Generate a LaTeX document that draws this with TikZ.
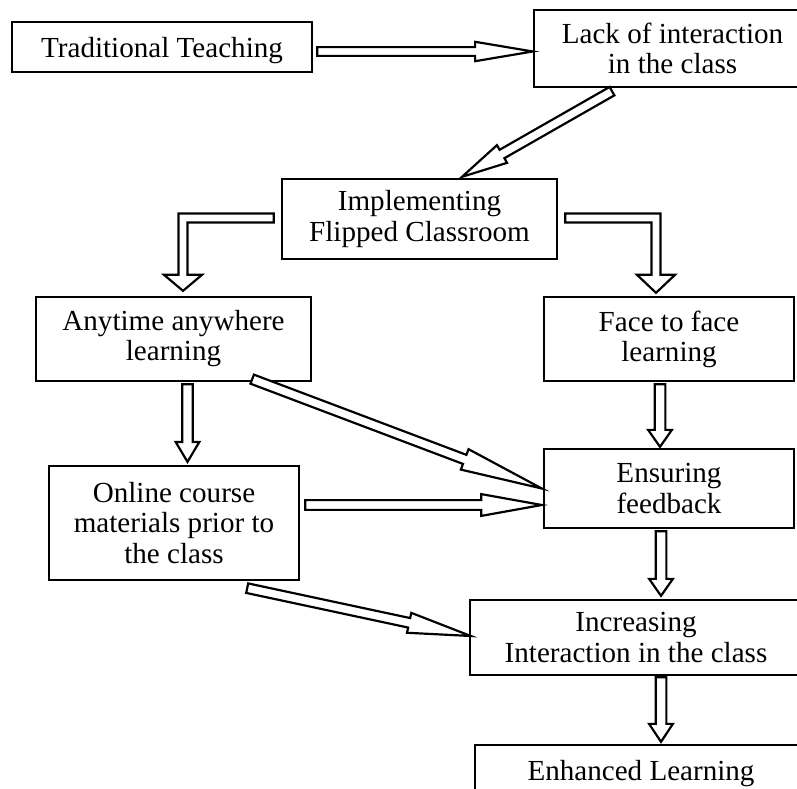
\documentclass[tikz,border=0pt]{standalone}
\usepackage{fontspec}
\setmainfont{Liberation Serif}
\usepackage{tikz}
\usetikzlibrary{calc}

\newcommand{\blockarrow}[5]{%
	\path (#1) coordinate (ba-s) (#2) coordinate (ba-t);
	\path ($(ba-t)!#5!(ba-s)$) coordinate (ba-h);
	\draw[arrowline] ($(ba-s)!#3!90:(ba-t)$) -- ($(ba-h)!#3!90:(ba-t)$) -- ($(ba-h)!#4!90:(ba-t)$) -- (ba-t)
		-- ($(ba-h)!#4!-90:(ba-t)$) -- ($(ba-h)!#3!-90:(ba-t)$) -- ($(ba-s)!#3!-90:(ba-t)$) -- cycle;
}

\begin{document}
\begin{tikzpicture}[x=0.0145cm, y=-0.0145cm,
		box/.style={draw, line width=0.95pt, align=center, inner sep=0pt,
			font=\fontsize{12}{12.4}\selectfont},
		oneline/.style={text depth=0pt},
		arrowline/.style={draw, line width=0.9pt, fill=white, line join=miter}]
		\useasboundingbox (0,0) rectangle (797,789);
		\clip (0,0) rectangle (797,789);
		\node[box, oneline, minimum width=4.35cm, minimum height=0.725cm] (trad) at (162,47) {Traditional Teaching};
		\node[box, minimum width=4.0165cm, minimum height=1.1165cm] (lack) at (672.5,48.5) {Lack of interaction\\in the class};
		\node[box, minimum width=3.9875cm, minimum height=1.16cm] (impl) at (419.5,219) {Implementing\\Flipped Classroom};
		\node[box, minimum width=3.9875cm, minimum height=1.218cm] (any) at (173.5,339) {Anytime anywhere\\learning};
		\node[box, minimum width=3.625cm, minimum height=1.218cm] (face) at (669,339) {Face to face\\learning};
		\node[box, minimum width=3.625cm, minimum height=1.653cm] (online) at (174,523) {Online course\\materials prior to\\the class};
		\node[box, minimum width=3.625cm, minimum height=1.1455cm] (ens) at (669,488.5) {Ensuring\\feedback};
		\node[box, minimum width=4.814cm, minimum height=1.0875cm] (incr) at (636,637.5) {Increasing\\Interaction in the class};
		\node[box, oneline, minimum width=4.814cm, minimum height=0.725cm] (enh) at (641,770) {Enhanced Learning};

		\blockarrow{$(trad.east)+(4,4.5)$}{$(lack.west)+(0,3)$}{1.8pt}{4pt}{23.8pt}
		\blockarrow{$(lack.south)+(-60.5,3)$}{$(impl.north)+(42.5,-1)$}{2pt}{4.2pt}{19pt}

		\coordinate (l-s) at ($(impl.west)+(-7,-1)$);
		\coordinate (l-t) at ($(any.north)+(9.5,-5)$);
		\draw[arrowline] ($(l-s)+(0,-4.5)$) -- ($(l-t |- l-s)+(-4.5,-4.5)$) -- ($(l-t)+(-4.5,-16)$) -- ($(l-t)+(-19,-16)$) -- (l-t)
			-- ($(l-t)+(19,-16)$) -- ($(l-t)+(4.5,-16)$) -- ($(l-t |- l-s)+(4.5,4.5)$) -- ($(l-s)+(0,4.5)$) -- cycle;
		\coordinate (r-s) at ($(impl.east)+(7,-1)$);
		\coordinate (r-t) at ($(face.north)+(-13,-3)$);
		\draw[arrowline] ($(r-s)+(0,-4.5)$) -- ($(r-t |- r-s)+(4.5,-4.5)$) -- ($(r-t)+(4.5,-18)$) -- ($(r-t)+(19,-18)$) -- (r-t)
			-- ($(r-t)+(-19,-18)$) -- ($(r-t)+(-4.5,-18)$) -- ($(r-t |- r-s)+(-4.5,4.5)$) -- ($(r-s)+(0,4.5)$) -- cycle;

		\blockarrow{$(any.south)+(14,2)$}{$(online.north)+(13.5,-3)$}{2.2pt}{4.9pt}{8.2pt}
		\blockarrow{$(face.south)+(-9,2)$}{$(ens.north)+(-9,-1)$}{2.2pt}{4.9pt}{7pt}
		\blockarrow{$(any.south east)+(-60,-3)$}{$(ens.west)+(-1,0)$}{2pt}{4.5pt}{34pt}
		\blockarrow{$(online.east)+(5,-18)$}{$(ens.west)+(-1,16.5)$}{2pt}{4.5pt}{25pt}
		\blockarrow{$(online.south east)+(-53,7)$}{$(incr.west)+(2,-1.5)$}{2pt}{4.2pt}{26pt}
		\blockarrow{$(ens.south)+(-8,2)$}{$(incr.north)+(25,-3)$}{2.2pt}{4.9pt}{7pt}
		\blockarrow{$(incr.south)+(25,1)$}{$(enh.north)+(20,-2)$}{2.2pt}{4.9pt}{7.4pt}
	\end{tikzpicture}
\end{document}
